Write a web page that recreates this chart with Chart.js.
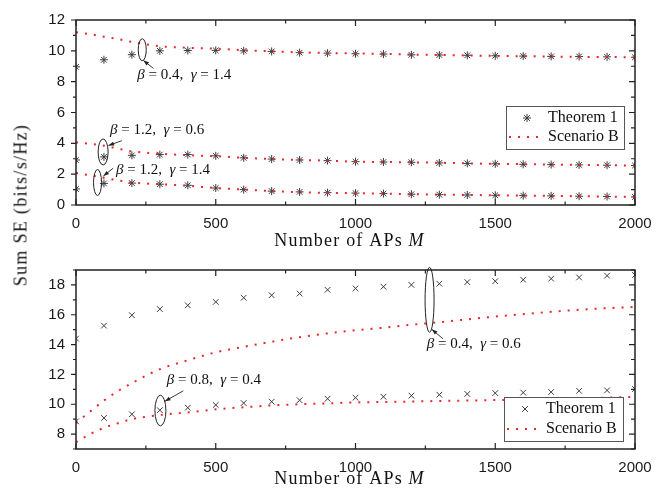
<!DOCTYPE html>
<html>
<head>
<meta charset="utf-8">
<title>Sum SE vs number of APs</title>
<script src="https://cdn.jsdelivr.net/npm/chart.js@4.4.1/dist/chart.umd.min.js"></script>
<style>
    html, body { margin: 0; padding: 0; background: #fff; }
    #page { position: relative; width: 665px; height: 500px; overflow: hidden; }
    #topChart { position: absolute; left: 0; top: 0; }
    #bottomChart { position: absolute; left: 0; top: 250px; }
    #yTitle {
        position: absolute; left: 21px; top: 205px;
        transform: translate(-50%, -50%) rotate(-90deg);
        font-family: "Liberation Serif", serif; font-size: 18px; letter-spacing: 1.3px;
        white-space: nowrap; color: #111;
    }
</style>
</head>
<body>
<div id="page">
    <canvas id="topChart" width="665" height="250"></canvas>
    <canvas id="bottomChart" width="665" height="250"></canvas>
    <div id="yTitle">Sum SE (bits/s/Hz)</div>
</div>
<script>
//#region Data
const apCounts = [0, 100, 200, 300, 400, 500, 600, 700, 800, 900, 1000,
    1100, 1200, 1300, 1400, 1500, 1600, 1700, 1800, 1900, 2000];
const scenarioApCounts = [0, 50, 100, 150, 200, 300, 400, 500, 600, 700, 800, 900, 1000,
    1100, 1200, 1300, 1400, 1500, 1600, 1700, 1800, 1900, 2000];

const xTickLabels = [0, 500, 1000, 1500, 2000];
const topYTickLabels = [0, 2, 4, 6, 8, 10, 12];
const bottomYTickLabels = [8, 10, 12, 14, 16, 18];
const legendLabels = ["Theorem 1", "Scenario B"];

// top panel: beta = 0.4, gamma = 1.4
const topTheoremA = [8.96, 9.42, 9.75, 10.0, 10.02, 10.03, 10.0, 9.96, 9.88, 9.85, 9.81,
    9.79, 9.74, 9.73, 9.71, 9.68, 9.66, 9.64, 9.63, 9.61, 9.58];
const topScenarioA = [11.2, 11.08, 10.92, 10.76, 10.58, 10.3, 10.2, 10.14, 10.04, 9.97, 9.9, 9.86, 9.83,
    9.8, 9.76, 9.73, 9.7, 9.67, 9.65, 9.63, 9.61, 9.6, 9.58];
// top panel: beta = 1.2, gamma = 0.6
const topTheoremB = [2.92, 3.12, 3.22, 3.27, 3.27, 3.19, 3.06, 2.98, 2.92, 2.88, 2.81,
    2.79, 2.77, 2.73, 2.7, 2.67, 2.64, 2.62, 2.6, 2.58, 2.56];
const topScenarioB = [4.06, 3.97, 3.85, 3.66, 3.48, 3.33, 3.23, 3.17, 3.06, 2.98, 2.92, 2.88, 2.81,
    2.79, 2.77, 2.74, 2.7, 2.67, 2.65, 2.62, 2.6, 2.58, 2.56];
// top panel: beta = 1.2, gamma = 1.4
const topTheoremC = [1.04, 1.4, 1.42, 1.35, 1.28, 1.1, 1.0, 0.9, 0.85, 0.8, 0.77,
    0.74, 0.7, 0.67, 0.65, 0.63, 0.61, 0.59, 0.57, 0.55, 0.52];
const topScenarioC = [2.08, 1.93, 1.77, 1.6, 1.46, 1.35, 1.25, 1.1, 1.0, 0.9, 0.83, 0.79, 0.77,
    0.74, 0.7, 0.67, 0.65, 0.63, 0.61, 0.59, 0.57, 0.55, 0.52];

// bottom panel: beta = 0.4, gamma = 0.6
const bottomTheoremA = [14.4, 15.27, 15.97, 16.38, 16.63, 16.86, 17.14, 17.31, 17.42, 17.67, 17.77,
    17.88, 18.0, 18.08, 18.19, 18.25, 18.35, 18.42, 18.5, 18.62, 18.67];
const bottomScenarioA = [8.75, 9.5, 10.25, 10.88, 11.42, 12.35, 12.95, 13.48, 13.85, 14.19, 14.5, 14.75, 14.96,
    15.13, 15.33, 15.5, 15.69, 15.88, 16.04, 16.2, 16.33, 16.44, 16.52];
// bottom panel: beta = 0.8, gamma = 0.4
const bottomTheoremB = [8.85, 9.08, 9.33, 9.6, 9.77, 9.95, 10.08, 10.17, 10.27, 10.37, 10.44,
    10.5, 10.58, 10.64, 10.69, 10.75, 10.78, 10.82, 10.9, 10.93, 11.02];
const bottomScenarioB = [7.45, 8.0, 8.42, 8.73, 9.0, 9.28, 9.45, 9.66, 9.8, 9.92, 10.0, 10.06, 10.12,
    10.15, 10.18, 10.22, 10.25, 10.28, 10.32, 10.36, 10.4, 10.45, 10.5];
//#endregion

//#region Styles And Helpers
const SERIF = '"Liberation Serif", "Times New Roman", serif';
const SANS = '"Liberation Sans", Arial, sans-serif';
const RED = "#e8262b";
const MARK = "#3c3c3c";
const DOTS = [2, 7];

function toPoints(xs, ys) {
    return xs.map((x, i) => ({ x: x, y: ys[i] }));
}

function theoremSet(label, values, style) {
    return {
        label: label,
        data: toPoints(apCounts, values),
        showLine: false,
        pointStyle: style,
        pointRadius: 4,
        pointBorderWidth: 1,
        pointBorderColor: MARK,
        pointBackgroundColor: MARK,
        clip: 0
    };
}

function scenarioSet(label, values) {
    return {
        label: label,
        data: toPoints(scenarioApCounts, values),
        showLine: true,
        borderColor: RED,
        borderWidth: 2,
        borderDash: DOTS,
        pointRadius: 0,
        cubicInterpolationMode: "monotone",
        fill: false,
        clip: 0
    };
}

function buildScales(yMin, yMax, yLabels, xHeight) {
    const tickFont = { family: SANS, size: 15 };
    return {
        x: {
            type: "linear", min: 0, max: 2000,
            grid: { display: false, drawTicks: false },
            border: { display: false },
            ticks: {
                stepSize: 250, autoSkip: false, maxRotation: 0, padding: 10,
                color: "#1a1a1a", font: tickFont,
                callback: v => xTickLabels.includes(v) ? String(v) : ""
            },
            afterFit: s => { s.height = xHeight; }
        },
        y: {
            type: "linear", min: yMin, max: yMax,
            grid: { display: false, drawTicks: false },
            border: { display: false },
            ticks: {
                stepSize: 1, autoSkip: false, padding: 11,
                color: "#1a1a1a", font: tickFont,
                callback: v => yLabels.includes(v) ? String(v) : ""
            },
            afterFit: s => { s.width = 76; }
        }
    };
}

// draws a run of text pieces, some italic, starting at x
function drawRich(ctx, parts, x, y, size, center) {
    const fontOf = italic => (italic ? "italic " : "") + size + "px " + SERIF;
    let total = 0;
    parts.forEach(p => { ctx.font = fontOf(p[1]); total += ctx.measureText(p[0]).width; });
    let cx = center ? x - total / 2 : x;
    ctx.textAlign = "left";
    ctx.textBaseline = "middle";
    parts.forEach(p => {
        ctx.font = fontOf(p[1]);
        ctx.fillText(p[0], cx, y);
        cx += ctx.measureText(p[0]).width;
    });
}
//#endregion

//#region Plugins
const framePlugin = {
    id: "frame",
    afterDraw(chart) {
        const { ctx, chartArea: a, scales: { x, y } } = chart;
        ctx.save();
        ctx.strokeStyle = "#222";
        ctx.lineWidth = 1.5;
        ctx.strokeRect(a.left, a.top, a.right - a.left, a.bottom - a.top);
        ctx.lineWidth = 1.2;
        ctx.beginPath();
        x.ticks.forEach(t => {
            const px = x.getPixelForValue(t.value);
            const len = t.label !== "" ? 6 : 3.5;
            ctx.moveTo(px, a.bottom); ctx.lineTo(px, a.bottom - len);
            ctx.moveTo(px, a.top); ctx.lineTo(px, a.top + len);
        });
        y.ticks.forEach(t => {
            const py = y.getPixelForValue(t.value);
            const len = t.label !== "" ? 5 : 3;
            ctx.moveTo(a.left, py); ctx.lineTo(a.left - len, py);
            ctx.moveTo(a.right, py); ctx.lineTo(a.right - len - 1, py);
        });
        ctx.stroke();
        ctx.restore();
    }
};

const axisTitlePlugin = {
    id: "axisTitle",
    afterDraw(chart, args, opts) {
        const { ctx, chartArea: a } = chart;
        ctx.save();
        ctx.fillStyle = "#111";
        ctx.letterSpacing = "1.2px";
        drawRich(ctx, [["Number of APs ", false], ["M", true]],
            (a.left + a.right) / 2 - 6, a.bottom + opts.offset, 18, true);
        ctx.restore();
    }
};

const notesPlugin = {
    id: "notes",
    afterDatasetsDraw(chart, args, opts) {
        const { ctx, scales: { x, y } } = chart;
        ctx.save();
        opts.items.forEach(item => {
            ctx.strokeStyle = "#222";
            ctx.fillStyle = "#222";
            ctx.lineWidth = 1;
            ctx.beginPath();
            ctx.ellipse(x.getPixelForValue(item.ring[0]), y.getPixelForValue(item.ring[1]),
                item.ring[2], item.ring[3], 0, 0, Math.PI * 2);
            ctx.stroke();

            const x1 = x.getPixelForValue(item.arrow[0]), y1 = y.getPixelForValue(item.arrow[1]);
            const x2 = x.getPixelForValue(item.arrow[2]), y2 = y.getPixelForValue(item.arrow[3]);
            ctx.lineWidth = 0.9;
            ctx.beginPath();
            ctx.moveTo(x1, y1);
            ctx.lineTo(x2, y2);
            ctx.stroke();
            const ang = Math.atan2(y2 - y1, x2 - x1);
            ctx.beginPath();
            ctx.moveTo(x2, y2);
            ctx.lineTo(x2 - 6 * Math.cos(ang - 0.35), y2 - 6 * Math.sin(ang - 0.35));
            ctx.lineTo(x2 - 6 * Math.cos(ang + 0.35), y2 - 6 * Math.sin(ang + 0.35));
            ctx.closePath();
            ctx.fill();

            ctx.fillStyle = "#111";
            drawRich(ctx, [["β", true], [" = " + item.beta + ",  ", false], ["γ", true], [" = " + item.gamma, false]],
                x.getPixelForValue(item.text[0]), y.getPixelForValue(item.text[1]), 15, false);
        });
        ctx.restore();
    }
};

const boxLegendPlugin = {
    id: "boxLegend",
    afterDraw(chart, args, opts) {
        const ctx = chart.ctx;
        const { x, y, w, h, marker } = opts;
        const rowA = y + 12, rowB = y + h - 12;
        ctx.save();
        ctx.fillStyle = "#fff";
        ctx.fillRect(x, y, w, h);
        ctx.strokeStyle = "#555";
        ctx.lineWidth = 1;
        ctx.strokeRect(x + 0.5, y + 0.5, w, h);

        ctx.strokeStyle = MARK;
        ctx.fillStyle = MARK;
        Chart.helpers.drawPoint(ctx, { pointStyle: marker, radius: 4, borderWidth: 1, rotation: 0 }, x + 21, rowA);

        ctx.strokeStyle = RED;
        ctx.lineWidth = 2;
        ctx.setLineDash(DOTS);
        ctx.beginPath();
        ctx.moveTo(x + 3, rowB);
        ctx.lineTo(x + 38, rowB);
        ctx.stroke();
        ctx.setLineDash([]);

        ctx.fillStyle = "#111";
        ctx.font = "16px " + SERIF;
        ctx.textAlign = "left";
        ctx.textBaseline = "middle";
        ctx.fillText(legendLabels[0], x + 42, rowA);
        ctx.fillText(legendLabels[1], x + 42, rowB);
        ctx.restore();
    }
};
//#endregion

//#region Load Top Chart
function LoadTopChart() {
    const element = document.querySelector("#topChart");
    new Chart(element, {
        type: "scatter",
        data: {
            datasets: [
                scenarioSet(legendLabels[1], topScenarioA),
                scenarioSet(legendLabels[1], topScenarioB),
                scenarioSet(legendLabels[1], topScenarioC),
                theoremSet(legendLabels[0], topTheoremA, "star"),
                theoremSet(legendLabels[0], topTheoremB, "star"),
                theoremSet(legendLabels[0], topTheoremC, "star")
            ]
        },
        options: {
            responsive: false,
            animation: false,
            devicePixelRatio: 1,
            layout: { padding: { top: 13, right: 30, left: 0, bottom: 0 } },
            scales: buildScales(0, 12, topYTickLabels, 45),
            plugins: {
                legend: { display: false },
                tooltip: { enabled: false },
                axisTitle: { offset: 36 },
                boxLegend: { x: 506, y: 106, w: 118, h: 43, marker: "star" },
                notes: {
                    items: [
                        { ring: [237, 10.07, 4, 11], arrow: [277, 8.86, 241, 9.38], text: [219, 8.44], beta: "0.4", gamma: "1.4" },
                        { ring: [97, 3.44, 5, 13], arrow: [164, 4.17, 116, 3.86], text: [122, 4.84], beta: "1.2", gamma: "0.6" },
                        { ring: [77, 1.46, 4, 13], arrow: [133, 2.39, 98, 1.88], text: [143, 2.25], beta: "1.2", gamma: "1.4" }
                    ]
                }
            }
        },
        plugins: [notesPlugin, framePlugin, axisTitlePlugin, boxLegendPlugin]
    });
}
//#endregion

//#region Load Bottom Chart
function LoadBottomChart() {
    const element = document.querySelector("#bottomChart");
    new Chart(element, {
        type: "scatter",
        data: {
            datasets: [
                scenarioSet(legendLabels[1], bottomScenarioA),
                scenarioSet(legendLabels[1], bottomScenarioB),
                theoremSet(legendLabels[0], bottomTheoremA, "crossRot"),
                theoremSet(legendLabels[0], bottomTheoremB, "crossRot")
            ]
        },
        options: {
            responsive: false,
            animation: false,
            devicePixelRatio: 1,
            layout: { padding: { top: 7, right: 30, left: 0, bottom: 0 } },
            scales: buildScales(7, 19, bottomYTickLabels, 51),
            plugins: {
                legend: { display: false },
                tooltip: { enabled: false },
                axisTitle: { offset: 30 },
                boxLegend: { x: 504, y: 147, w: 119, h: 44, marker: "crossRot" },
                notes: {
                    items: [
                        { ring: [302, 9.58, 5.5, 15.3], arrow: [384, 10.9, 318, 10.2], text: [325, 11.63], beta: "0.8", gamma: "0.4" },
                        { ring: [1265, 17.0, 4.5, 32.5], arrow: [1313, 14.39, 1273, 15.02], text: [1255, 14.04], beta: "0.4", gamma: "0.6" }
                    ]
                }
            }
        },
        plugins: [notesPlugin, framePlugin, axisTitlePlugin, boxLegendPlugin]
    });
}
//#endregion

//#region On Document Load
window.addEventListener("DOMContentLoaded", () => {
    LoadTopChart();
    LoadBottomChart();
});
//#endregion
</script>
</body>
</html>
